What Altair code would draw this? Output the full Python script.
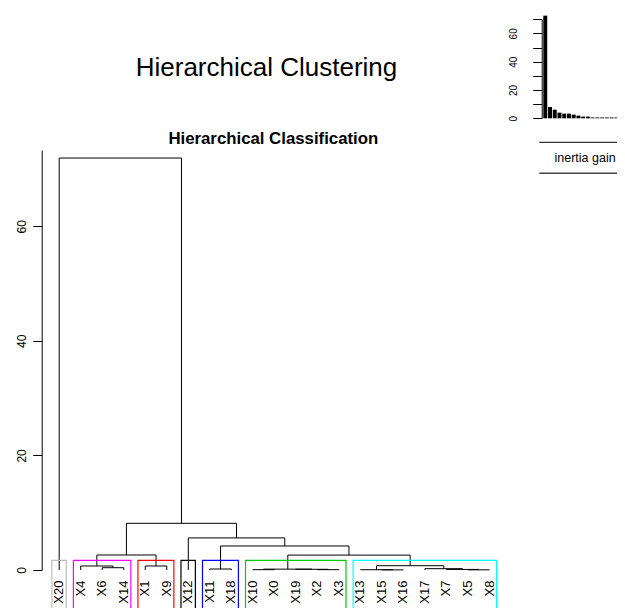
import altair as alt
import pandas as pd

# ---------------- data ----------------
leaf_order = ["X20", "X4", "X6", "X14", "X1", "X9", "X12", "X11", "X18", "X10", "X0",
              "X19", "X2", "X3", "X13", "X15", "X16", "X17", "X7", "X5", "X8"]

# hclust-style merges (m1 ... m20): left member, right member, height
merge_a = ["X6", "X4", "X1", "m2", "X11", "X10", "X2", "X19", "m6", "X15",
           "X13", "X5", "X7", "X17", "m11", "m9", "m5", "X12", "m4", "X20"]
merge_b = ["X14", "m1", "X9", "m3", "X18", "X0", "X3", "m7", "m8", "X16",
           "m10", "X8", "m12", "m13", "m14", "m15", "m16", "m17", "m18", "m19"]
merge_h = [0.40, 0.70, 0.70, 2.62, 0.17, 0.06, 0.06, 0.12, 0.15, 0.02,
           0.05, 0.03, 0.10, 0.23, 0.75, 2.60, 4.19, 5.60, 8.15, 71.9]

# clusters (k = 7) drawn as boxes
cluster_first = ["X20", "X4", "X1", "X12", "X11", "X10", "X13"]
cluster_last = ["X20", "X14", "X9", "X12", "X18", "X3", "X8"]
cluster_color = ["#BEBEBE", "#FF00FF", "#FF0000", "#000000", "#0000FF", "#00CD00", "#00FFFF"]

# inset bar chart: inertia gain
inertia_gain = [72.5, 8.0, 6.1, 4.0, 3.3, 3.3, 2.6, 1.9, 1.2, 1.2,
                0.6, 0.6, 0.6, 0.6, 0.6, 0.6, 0.6, 0.5, 0.5, 0.5]

y_ticks = [0, 20, 40, 60]
inset_ticks = [0, 10, 20, 30, 40, 50, 60, 70]

main_title = "Hierarchical Clustering"
sub_title = "Hierarchical Classification"
inset_legend = "inertia gain"

# ---------------- build tables ----------------
pos = {name: i for i, name in enumerate(leaf_order)}
hgt = {name: 0.0 for name in leaf_order}
segs = []
for k, (a, b, h) in enumerate(zip(merge_a, merge_b, merge_h)):
    xa, xb = pos[a], pos[b]
    segs.append(dict(x0=xa, x1=xa, y0=hgt[a], y1=h))
    segs.append(dict(x0=xb, x1=xb, y0=hgt[b], y1=h))
    segs.append(dict(x0=xa, x1=xb, y0=h, y1=h))
    mid = f"m{k + 1}"
    pos[mid] = (xa + xb) / 2
    hgt[mid] = h
seg_df = pd.DataFrame(segs)

leaf_df = pd.DataFrame(dict(x0=[pos[n] for n in leaf_order], name=leaf_order))

k = len(cluster_first)
hs = sorted(merge_h, reverse=True)
cut = (hs[k - 2] + hs[k - 1]) / 2
clu_df = pd.DataFrame(dict(
    x0=[pos[f] - 0.34 for f in cluster_first],
    x1=[pos[l] + 0.33 for l in cluster_last],
    y0=[cut] * k,
    y1=[-12.0] * k,
    col=cluster_color,
))

bar_df = pd.DataFrame(dict(
    b0=[0.2 + 1.2 * i for i in range(len(inertia_gain))],
    b1=[1.2 + 1.2 * i for i in range(len(inertia_gain))],
    gain=inertia_gain,
    base=[0.0] * len(inertia_gain),
))

# ---------------- chart ----------------
FONT = "Liberation Sans"
W, H, PT = 609, 458, 142

dx_scale = alt.Scale(domain=[0, 20], range=[51.2, 481.5], nice=False, zero=False)
dy_scale = alt.Scale(domain=[0, 73.3], range=[420, 0], nice=False, zero=False)

rules = alt.Chart(seg_df).mark_rule(color="black", strokeWidth=1).encode(
    x=alt.X("x0:Q", scale=dx_scale, axis=None),
    x2="x1:Q",
    y=alt.Y("y0:Q", scale=dy_scale,
            axis=alt.Axis(orient="left", offset=-33.7, values=y_ticks, tickSize=9,
                          labelAngle=270, labelAlign="center", labelBaseline="alphabetic",
                          labelPadding=7, labelFontSize=12, labelColor="black",
                          domainColor="black", tickColor="black", grid=False, title=None,
                          labelFont=FONT, labelFlush=False)),
    y2="y1:Q",
)

rects = alt.Chart(clu_df).mark_rect(fillOpacity=0, strokeWidth=1.2).encode(
    x=alt.X("x0:Q", scale=dx_scale),
    x2="x1:Q",
    y=alt.Y("y0:Q", scale=dy_scale),
    y2="y1:Q",
    stroke=alt.Stroke("col:N", scale=None),
)

leaves = alt.Chart(leaf_df).mark_text(
    angle=270, align="right", baseline="middle", fontSize=13, font=FONT, color="black"
).encode(
    x=alt.X("x0:Q", scale=dx_scale),
    y=alt.value(430.5),
    text="name:N",
)

dendro = alt.layer(rules, rects, leaves)

bars = alt.Chart(bar_df).mark_rect(color="black").encode(
    x=alt.X("b0:Q", scale=alt.Scale(domain=[0, 24], range=[534.5, 629.3], nice=False, zero=False),
            axis=None),
    x2="b1:Q",
    y=alt.Y("gain:Q", scale=alt.Scale(domain=[0, 70], range=[-31.7, -130.8], nice=False, zero=False),
            axis=alt.Axis(orient="left", offset=-533.7, values=inset_ticks, tickSize=9,
                          labelExpr="datum.value % 20 == 0 ? datum.label : ''",
                          labelAngle=270, labelAlign="center", labelBaseline="alphabetic",
                          labelPadding=16, labelFontSize=10, labelColor="black",
                          domainColor="black", tickColor="black", grid=False, title=None,
                          labelFont=FONT, labelOverlap=False, labelFlush=False)),
    y2="base:Q",
)

one = pd.DataFrame({"a": [0]})
legend_top = alt.Chart(one).mark_rule(color="black", strokeWidth=1).encode(
    x=alt.value(531.3), x2=alt.value(620), y=alt.value(-7.7))
legend_bot = alt.Chart(one).mark_rule(color="#444444", strokeWidth=1.5).encode(
    x=alt.value(531.3), x2=alt.value(620), y=alt.value(23.3))
legend_txt = alt.Chart(pd.DataFrame({"t": [inset_legend]})).mark_text(
    align="left", baseline="middle", fontSize=12.5, font=FONT, color="black").encode(
    text="t:N", x=alt.value(546.5), y=alt.value(8))

title_txt = alt.Chart(pd.DataFrame({"t": [main_title]})).mark_text(
    align="center", baseline="alphabetic", fontSize=26, font=FONT, color="black").encode(
    text="t:N", x=alt.value(258.5), y=alt.value(-74.5))
sub_txt = alt.Chart(pd.DataFrame({"t": [sub_title]})).mark_text(
    align="center", baseline="alphabetic", fontSize=16.8, fontWeight="bold", font=FONT,
    color="black").encode(
    text="t:N", x=alt.value(265.3), y=alt.value(-6.5))

chart = alt.layer(dendro, bars, legend_top, legend_bot, legend_txt, title_txt, sub_txt).resolve_scale(
    x="independent", y="independent"
).properties(
    width=W, height=H,
    padding={"left": 0, "top": PT, "right": 0, "bottom": 0},
    autosize=alt.AutoSizeParams(type="none"),
).configure(font=FONT, background="white").configure_view(stroke=None)

chart.save("out.html", embed_options={"renderer": "svg", "actions": False})
